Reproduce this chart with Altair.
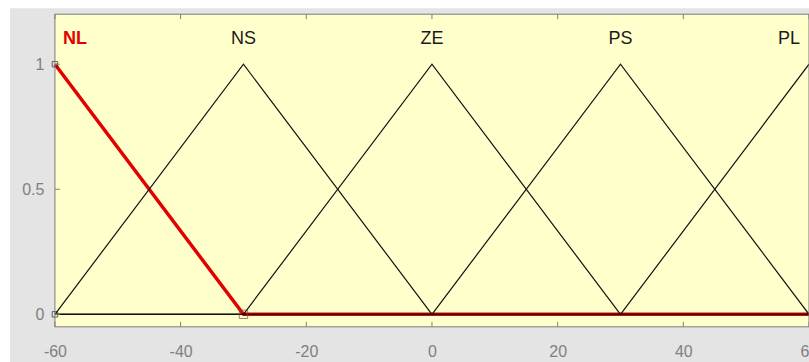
import altair as alt
import pandas as pd

# Membership functions of the input variable (triangular, trimf a-b-c)
mf_names = ["NL", "NS", "ZE", "PS", "PL"]
tri_a = [-90, -60, -30, 0, 30]
tri_b = [-60, -30, 0, 30, 60]
tri_c = [-30, 0, 30, 60, 90]
x_range = [-60, 60]
selected_mf = "NL"

# Axis ticks
x_ticks = [-60, -40, -20, 0, 20, 40, 60]
y_ticks = [0, 0.5, 1]

# Vertex handles of the selected function
handle_x = [-60, -60]
handle_y = [1, 0]
end_handle_x = [-30]
end_handle_y = [0]

W, H = 755, 313
PANEL = "#E4E4E4"
PLOT_BG = "#FFFFCC"
AXIS_GRAY = "#808080"
FONT = "Liberation Sans"


def trimf(x, a, b, c):
    if x <= a or x >= c:
        return 0.0 if x != b else 1.0
    if x <= b:
        return (x - a) / (b - a)
    return (c - x) / (c - b)


rows = []
for name, a, b, c in zip(mf_names, tri_a, tri_b, tri_c):
    xs = sorted({v for v in [x_range[0], a, b, c, x_range[1]] if x_range[0] <= v <= x_range[1]})
    for x in xs:
        rows.append({"mf": name, "x": x, "mu": trimf(x, a, b, c)})
mf_df = pd.DataFrame(rows)

label_df = pd.DataFrame({"mf": mf_names, "x": tri_b, "y": [1.1] * len(mf_names)})

xs = alt.Scale(domain=x_range, nice=False, zero=False)
ys = alt.Scale(domain=[-0.05, 1.2], nice=False, zero=False)

# plain hyphen-minus in the tick labels
x_axis = alt.Axis(values=x_ticks, labelExpr="'' + datum.value", labelFlush=False,
                  labelOverlap=False, domain=False, ticks=False, grid=False,
                  labelPadding=17, labelFontSize=16, labelColor=AXIS_GRAY,
                  labelFont=FONT, title=None, zindex=1)
y_axis = alt.Axis(values=y_ticks, labelExpr="'' + datum.value", labelFlush=False,
                  labelOverlap=False, domain=False, ticks=False, grid=False,
                  labelPadding=11, labelFontSize=16, labelColor=AXIS_GRAY,
                  labelFont=FONT, title=None, zindex=1)

one = pd.DataFrame({"k": [0]})

panel = alt.Chart(one).mark_rect(color=PANEL).encode(
    x=alt.value(-45), x2=alt.value(W + 10), y=alt.value(-6), y2=alt.value(H + 40))

plot_bg = alt.Chart(one).mark_rect(color=PLOT_BG).encode(
    x=alt.value(0), x2=alt.value(W), y=alt.value(0), y2=alt.value(H))

red_line = alt.Chart(mf_df).transform_filter(
    alt.datum.mf == selected_mf
).mark_line(color="#E30000", strokeWidth=3.5).encode(
    x=alt.X("x:Q", scale=xs, axis=x_axis),
    y=alt.Y("mu:Q", scale=ys, axis=y_axis),
)

black_lines = alt.Chart(mf_df).transform_filter(
    alt.datum.mf != selected_mf
).mark_line(color="#111111", strokeWidth=1.2).encode(
    x=alt.X("x:Q", scale=xs),
    y=alt.Y("mu:Q", scale=ys),
    detail="mf:N",
)

handles = alt.Chart(pd.DataFrame({"x": handle_x, "y": handle_y})).mark_point(
    shape="square", filled=False, color="#202020", size=30, strokeWidth=1
).encode(x=alt.X("x:Q", scale=xs), y=alt.Y("y:Q", scale=ys))

end_handle = alt.Chart(pd.DataFrame({"x": end_handle_x, "y": end_handle_y})).mark_point(
    shape="square", filled=False, color="#7A4A3A", size=70, strokeWidth=1
).encode(x=alt.X("x:Q", scale=xs), y=alt.Y("y:Q", scale=ys))

label_first = alt.Chart(label_df.iloc[[0]]).mark_text(
    align="left", baseline="middle", dx=8, fontSize=18, font=FONT,
    fontWeight="bold", color="#E30000"
).encode(x=alt.X("x:Q", scale=xs), y=alt.Y("y:Q", scale=ys), text="mf:N")

label_mid = alt.Chart(label_df.iloc[1:-1]).mark_text(
    align="center", baseline="middle", fontSize=18, font=FONT, color="#1A1A1A"
).encode(x=alt.X("x:Q", scale=xs), y=alt.Y("y:Q", scale=ys), text="mf:N")

label_last = alt.Chart(label_df.iloc[[-1]]).mark_text(
    align="right", baseline="middle", dx=-9, fontSize=18, font=FONT, color="#1A1A1A"
).encode(x=alt.X("x:Q", scale=xs), y=alt.Y("y:Q", scale=ys), text="mf:N")

# Inward tick marks on the box
xt = pd.DataFrame({"x": x_ticks})
yt = pd.DataFrame({"y": y_ticks})
ticks_bottom = alt.Chart(xt).mark_rule(color=AXIS_GRAY, strokeWidth=1).encode(
    x=alt.X("x:Q", scale=xs), y=alt.value(H), y2=alt.value(H - 5))
ticks_top = alt.Chart(xt).mark_rule(color=AXIS_GRAY, strokeWidth=1).encode(
    x=alt.X("x:Q", scale=xs), y=alt.value(0), y2=alt.value(5))
ticks_left = alt.Chart(yt).mark_rule(color=AXIS_GRAY, strokeWidth=1).encode(
    y=alt.Y("y:Q", scale=ys), x=alt.value(0), x2=alt.value(5))

border = alt.Chart(one).mark_rect(fillOpacity=0, stroke="#7A7A7A", strokeWidth=1).encode(
    x=alt.value(0), x2=alt.value(W), y=alt.value(0), y2=alt.value(H))

chart = alt.layer(
    panel, plot_bg, red_line, black_lines, handles, end_handle,
    label_first, label_mid, label_last,
    ticks_bottom, ticks_top, ticks_left, border,
).properties(
    width=W, height=H,
    autosize=alt.AutoSizeParams(type="none"),
    padding={"left": 55, "top": 14, "right": 0, "bottom": 35},
    background="white",
).configure_view(stroke=None)

chart.save("out.html", embed_options={"renderer": "svg", "actions": False})
